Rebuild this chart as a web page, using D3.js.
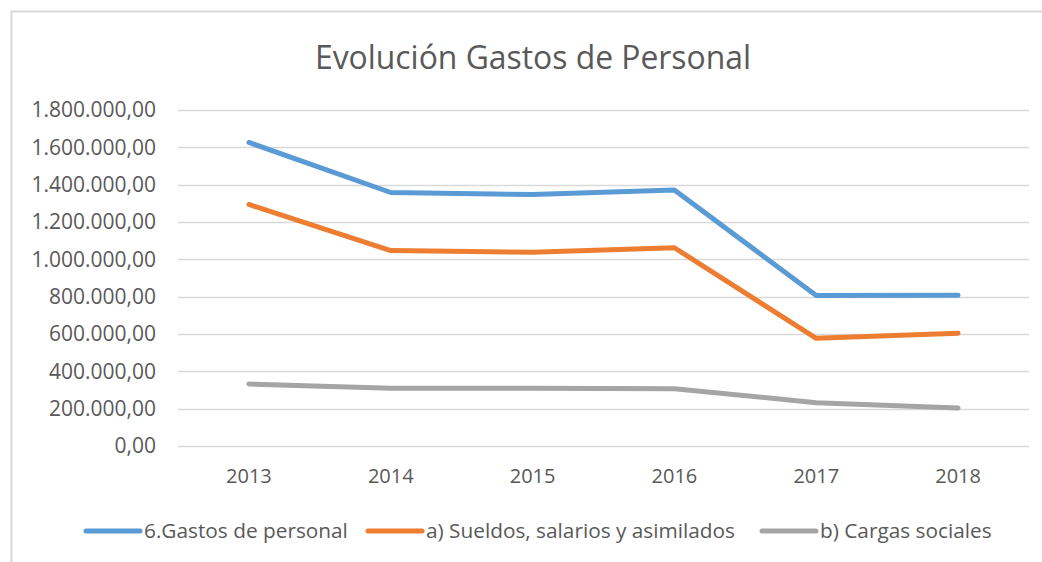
<!DOCTYPE html>
<html>
<head>
<meta charset="utf-8">
<script src="https://cdn.jsdelivr.net/npm/d3@7"></script>
<style>
  body { margin: 0; background: #fff; }
  text { font-family: "Open Sans", "Noto Sans", sans-serif; fill: #595959; }
</style>
</head>
<body>
<div id="chart"></div>
<script>
const years = ["2013", "2014", "2015", "2016", "2017", "2018"];
const gastosPersonal = [1626000, 1358000, 1347000, 1371000, 806000, 807000];
const sueldos = [1294000, 1047000, 1038000, 1062000, 577000, 604000];
const cargasSociales = [332000, 309000, 309000, 307000, 232000, 204000];
const yTicks = [0, 200000, 400000, 600000, 800000, 1000000, 1200000, 1400000, 1600000, 1800000];

const series = [
  { name: "6.Gastos de personal", values: gastosPersonal, color: "#5B9BD5" },
  { name: "a) Sueldos, salarios y asimilados", values: sueldos, color: "#ED7D31" },
  { name: "b) Cargas sociales", values: cargasSociales, color: "#A5A5A5" },
];

const width = 1042, height = 562;
const margin = { top: 110, right: 13, bottom: 116, left: 178 };
const innerW = width - margin.left - margin.right;
const innerH = height - margin.top - margin.bottom;

const locale = d3.formatLocale({ decimal: ",", thousands: ".", grouping: [3], currency: ["", ""] });
const fmt = locale.format(",.2f");

const svg = d3.select("#chart").append("svg")
  .attr("width", width)
  .attr("height", height);

// chart area border
svg.append("rect")
  .attr("x", 11.5).attr("y", 11.5)
  .attr("width", 1060).attr("height", 600)
  .attr("fill", "none")
  .attr("stroke", "#D9D9D9")
  .attr("stroke-width", 2);

svg.append("text")
  .attr("x", 533)
  .attr("y", 69)
  .attr("text-anchor", "middle")
  .attr("textLength", 436)
  .attr("lengthAdjust", "spacingAndGlyphs")
  .style("font-size", "33px")
  .text("Evolución Gastos de Personal");

const g = svg.append("g")
  .attr("transform", `translate(${margin.left},${margin.top})`);

const x = d3.scaleBand().domain(years).range([0, innerW]);
const y = d3.scaleLinear().domain([0, 1800000]).range([innerH, 0]);

// gridlines
g.append("g")
  .selectAll("line")
  .data(yTicks)
  .enter()
  .append("line")
  .attr("x1", 0).attr("x2", innerW)
  .attr("y1", (d) => Math.round(y(d)) + 0.5)
  .attr("y2", (d) => Math.round(y(d)) + 0.5)
  .attr("stroke", "#D9D9D9")
  .attr("stroke-width", 1.3);

const yAxis = g.append("g")
  .attr("font-size", 21)
  .attr("font-family", null)
  .call(d3.axisLeft(y).tickValues(yTicks).tickFormat(fmt).tickSize(0).tickPadding(22));
yAxis.select(".domain").remove();
yAxis.attr("font-size", 21).attr("font-family", null);
yAxis.selectAll("text").style("font-size", "21px").attr("fill", "#595959");

const xAxis = g.append("g")
  .attr("transform", `translate(0,${innerH})`)
  .call(d3.axisBottom(x).tickSize(0).tickPadding(23));
xAxis.select(".domain").remove();
xAxis.attr("font-size", 20).attr("font-family", null);
xAxis.selectAll("text").style("font-size", "20px").attr("fill", "#595959");

const line = d3.line()
  .x((d, i) => x(years[i]) + x.bandwidth() / 2)
  .y((d) => y(d));

g.selectAll(".series")
  .data(series)
  .enter()
  .append("path")
  .attr("class", "series")
  .attr("d", (d) => line(d.values))
  .attr("fill", "none")
  .attr("stroke", (d) => d.color)
  .attr("stroke-width", 5)
  .attr("stroke-linejoin", "round")
  .attr("stroke-linecap", "round");

// legend
const legendX = [86, 368, 762];
const legend = svg.append("g").attr("transform", "translate(0,531)");
const items = legend.selectAll("g")
  .data(series)
  .enter()
  .append("g")
  .attr("transform", (d, i) => `translate(${legendX[i]},0)`);
items.append("line")
  .attr("x1", 0).attr("x2", 54)
  .attr("stroke", (d) => d.color)
  .attr("stroke-width", 5)
  .attr("stroke-linecap", "round");
items.append("text")
  .attr("x", 58)
  .attr("dy", "0.35em")
  .style("font-size", "20.8px")
  .text((d) => d.name);
</script>
</body>
</html>
